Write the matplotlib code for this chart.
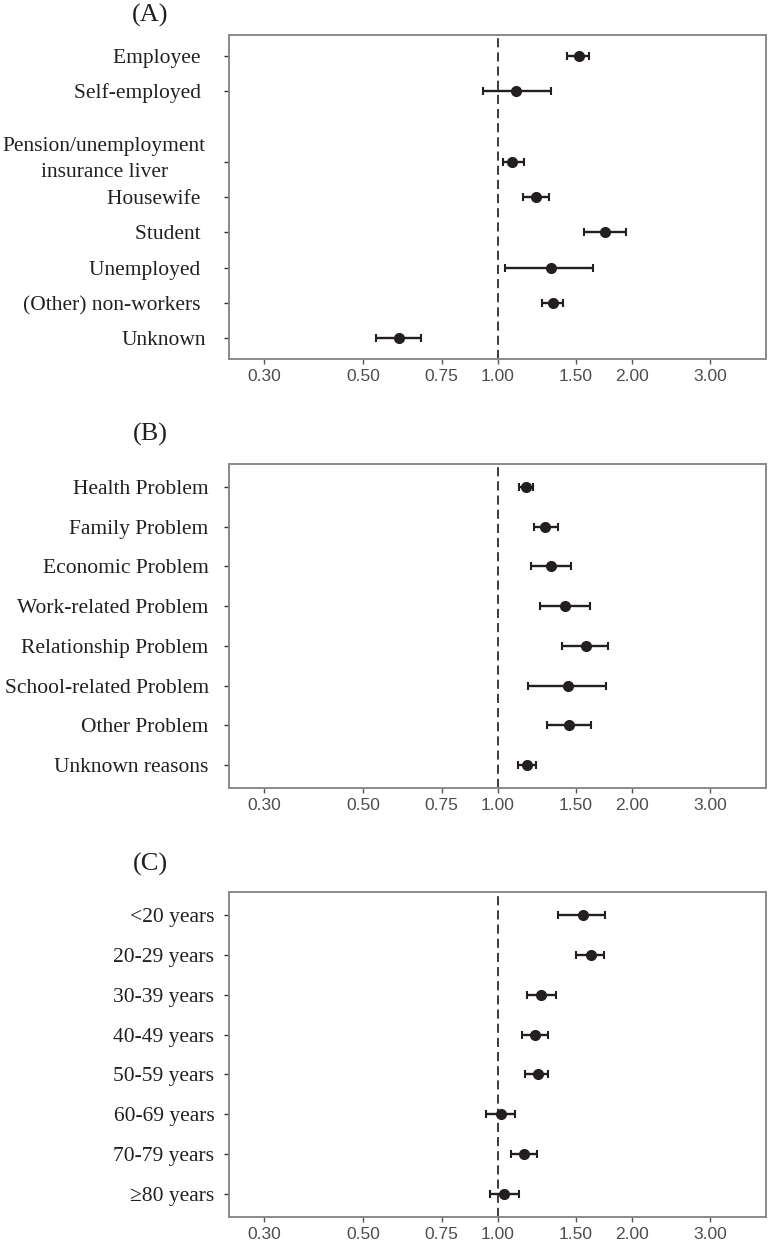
import matplotlib
matplotlib.use("Agg")
import matplotlib.pyplot as plt
import matplotlib.transforms as mtransforms
import numpy as np

# ---------------- data ----------------
cats_A = ["Employee ", "Self-employed ", "Pension/unemployment\ninsurance liver",
          "Housewife ", "Student ", "Unemployed ", "(Other) non-workers ", "Unknown"]
slot_A = [0, 1, 3, 4, 5, 6, 7, 8]          # row slots (blank slot 2 in original)
or_A = [1.52, 1.10, 1.08, 1.22, 1.74, 1.32, 1.33, 0.60]
lo_A = [1.43, 0.93, 1.03, 1.14, 1.56, 1.04, 1.26, 0.534]
hi_A = [1.60, 1.315, 1.146, 1.306, 1.945, 1.64, 1.404, 0.672]

cats_B = ["Health Problem", "Family Problem", "Economic Problem", "Work-related Problem",
          "Relationship Problem", "School-related Problem", "Other Problem", "Unknown reasons"]
or_B = [1.16, 1.28, 1.317, 1.42, 1.579, 1.438, 1.45, 1.162]
lo_B = [1.12, 1.209, 1.19, 1.246, 1.397, 1.172, 1.29, 1.109]
hi_B = [1.20, 1.366, 1.463, 1.611, 1.768, 1.75, 1.623, 1.223]

cats_C = ["<20 years", "20-29 years", "30-39 years", "40-49 years",
          "50-59 years", "60-69 years", "70-79 years", "\u226580 years"]
or_C = [1.552, 1.62, 1.251, 1.215, 1.231, 1.016, 1.144, 1.033]
lo_C = [1.37, 1.498, 1.162, 1.132, 1.152, 0.943, 1.073, 0.964]
hi_C = [1.741, 1.729, 1.356, 1.297, 1.297, 1.096, 1.228, 1.118]

xticks = [0.30, 0.50, 0.75, 1.00, 1.50, 2.00, 3.00]
xticklabels = ["0.30", "0.50", "0.75", "1.00", "1.50", "2.00", "3.00"]
panel_titles = ["(A)", "(B)", "(C)"]

# ---------------- figure ----------------
W, H = 768, 1240
fig = plt.figure(figsize=(W / 100, H / 100), dpi=100)

serif = ["Liberation Serif", "DejaVu Serif"]
narrow = ["Liberation Sans Narrow", "Liberation Sans", "DejaVu Sans"]
spine_col = "#8a8a8a"
mark_col = "#231f20"

# (top_px, bottom_px, title_y_px, label pad)
layout = [(35, 359, 15, 13), (464, 788, 434, 11), (892, 1217, 864, 7)]
datasets = [
    (cats_A, slot_A, or_A, lo_A, hi_A),
    (cats_B, list(range(len(cats_B))), or_B, lo_B, hi_B),
    (cats_C, list(range(len(cats_C))), or_C, lo_C, hi_C),
]

left_px, right_px = 229, 766
for (top, bot, ty, pad), (cats, slots, orv, lov, hiv), title in zip(layout, datasets, panel_titles):
    ax = fig.add_axes([left_px / W, 1 - bot / H, (right_px - left_px) / W, (bot - top) / H])
    ax.set_xscale("log")
    ax.set_xlim(0.25, 4.0)
    nslot = max(slots)
    ax.set_ylim(nslot + 0.58, -0.58)
    orv = np.array(orv); lov = np.array(lov); hiv = np.array(hiv)
    ax.axvline(1.0, color="#1a1a1a", lw=1.2, ls=(0, (5.5, 3)), zorder=1)
    ax.errorbar(orv, slots, xerr=[orv - lov, hiv - orv], fmt="none",
                ecolor=mark_col, elinewidth=1.7, capsize=2.6, capthick=1.5, zorder=2)
    ax.plot(orv, slots, "o", color=mark_col, ms=7, zorder=3)

    ax.set_yticks(slots)
    ax.set_yticklabels(cats, fontfamily=serif, fontsize=15.5, color="#231f20",
                       multialignment="center")
    ax.tick_params(axis="y", length=3.6, width=1.0, color="#333333", pad=pad)
    for tk in ax.yaxis.get_major_ticks():
        tk.label1.set_linespacing(1.5)
        if "\n" in tk.label1.get_text():
            tk.label1.set_transform(tk.label1.get_transform() +
                                    mtransforms.ScaledTranslation(0, 6 / 72, fig.dpi_scale_trans))

    ax.xaxis.set_minor_locator(matplotlib.ticker.NullLocator())
    ax.set_xticks(xticks)
    ax.set_xticklabels(xticklabels, fontfamily=narrow, fontsize=12.5, color="#4d4d4d")
    ax.tick_params(axis="x", length=3.6, width=1.0, color="#555555", pad=3.5)

    for s in ax.spines.values():
        s.set_color(spine_col)
        s.set_linewidth(1.4)

    fig.text(150 / W, 1 - ty / H, title, fontfamily=serif, fontsize=19,
             ha="center", va="center", color="#231f20")

fig.savefig("out.png", dpi=100, facecolor="white")
